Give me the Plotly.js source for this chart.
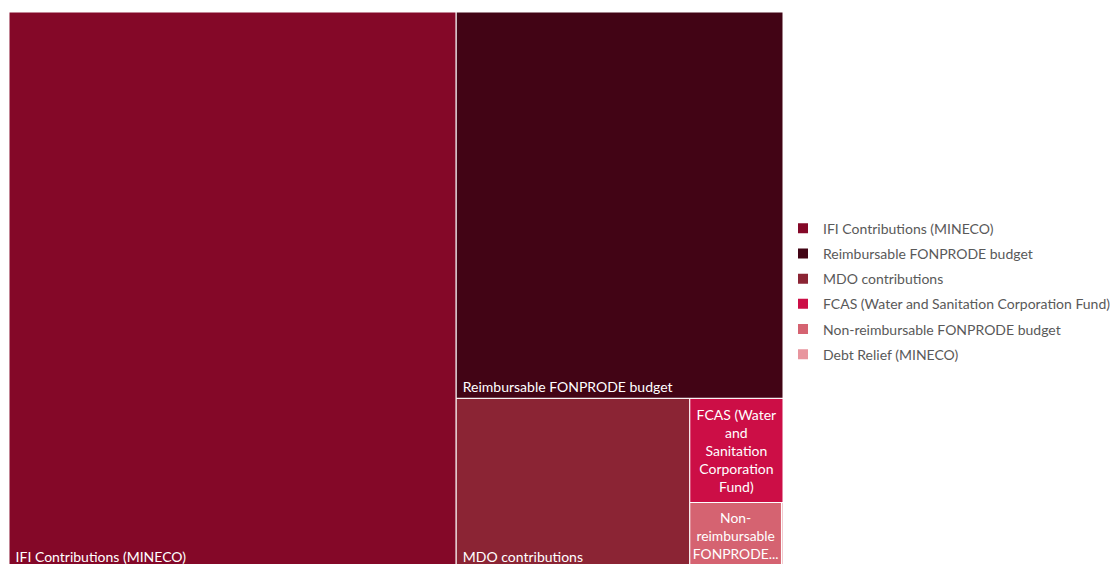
<!DOCTYPE html>
<html>
<head>
<meta charset="utf-8">
<script src="https://cdn.plot.ly/plotly-3.0.1.min.js"></script>
<style>
html,body{margin:0;padding:0;overflow:hidden;background:#fff;}
#chart{width:1116px;height:568px;}
</style>
</head>
<body>
<div id="chart"></div>
<script>
// Data
const categories = [
  "IFI Contributions (MINECO)",
  "Reimbursable FONPRODE budget",
  "MDO contributions",
  "FCAS (Water and Sanitation Corporation Fund)",
  "Non-reimbursable FONPRODE budget",
  "Debt Relief (MINECO)"
];
const values = [248.5, 126.2, 39.6, 9.7, 6.0, 0.1];
const colors = ["#840828", "#420415", "#8B2434", "#CC0E46", "#D56371", "#E8959E"];
// tile labels: bottom-left ones and centered (wrapped) ones
const cornerText = ["\u00a0IFI Contributions (MINECO)", "\u00a0Reimbursable FONPRODE budget", "\u00a0MDO contributions", "", "", ""];
const centerText = ["", "", "", "FCAS (Water<br>and<br>Sanitation<br>Corporation<br>Fund)", "Non-<br>reimbursable<br>FONPRODE...", ""];

const parents = categories.map(() => "");
const font = "Lato, 'Open Sans', sans-serif";

const base = {
  type: "treemap",
  labels: categories,
  parents: parents,
  values: values,
  sort: true,
  pathbar: {visible: false},
  tiling: {pad: 0, packing: "squarify"},
  domain: {x: [0, 1], y: [0, 1]},
  texttemplate: "%{text}",
  hoverinfo: "label+value",
  showlegend: false
};

const t1 = Object.assign({}, base, {
  text: cornerText,
  textposition: "bottom left",
  textfont: {family: font, size: 14, color: "#ffffff"},
  marker: {colors: colors, line: {width: 1, color: "#ffffff"}, pad: {t: 0, l: 0, r: 0, b: 0}}
});
const t2 = Object.assign({}, base, {
  text: centerText,
  textposition: "middle center",
  textfont: {family: font, size: 14, color: "#ffffff"},
  marker: {colors: categories.map(() => "rgba(0,0,0,0)"), line: {width: 0, color: "rgba(0,0,0,0)"}, pad: {t: 0, l: 0, r: 0, b: 0}},
  hoverinfo: "skip"
});

const legendTraces = categories.map((c, i) => ({
  type: "scatter",
  mode: "markers",
  x: [null], y: [null],
  name: c,
  legendgroup: "g" + i,
  marker: {symbol: "square", size: 10, color: colors[i]},
  showlegend: true,
  hoverinfo: "skip"
}));

const layout = {
  width: 1116,
  height: 568,
  margin: {l: 9, r: 331, t: 12, b: 0},
  paper_bgcolor: "#ffffff",
  plot_bgcolor: "#ffffff",
  xaxis: {visible: false},
  yaxis: {visible: false},
  showlegend: true,
  legend: {
    x: 1.0, xanchor: "left",
    y: 0.497, yanchor: "middle",
    font: {family: font, size: 14, color: "#595959"},
    tracegroupgap: 4,
    itemclick: false
  }
};

Plotly.newPlot("chart", [t1, t2].concat(legendTraces), layout, {displayModeBar: false, staticPlot: true});
</script>
</body>
</html>
